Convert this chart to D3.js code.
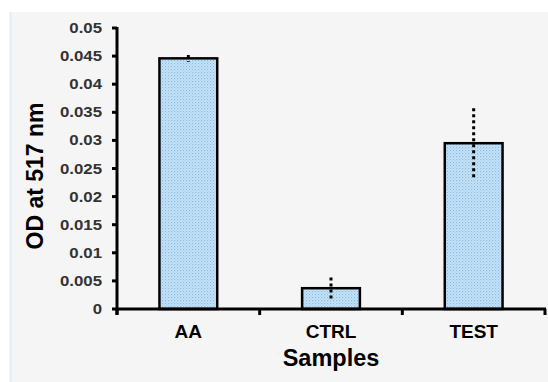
<!DOCTYPE html>
<html><head><meta charset="utf-8">
<script src="https://cdn.jsdelivr.net/npm/d3@7"></script>
<style>body{margin:0;background:#fff}svg{display:block}</style>
</head><body>
<svg id="chart" width="548" height="382"></svg>
<script>
const categories = ["AA", "CTRL", "TEST"];
const means = [0.0446, 0.0037, 0.0295];
const errors = [0.0006, 0.0019, 0.0062];
const yTicks = [0, 0.005, 0.01, 0.015, 0.02, 0.025, 0.03, 0.035, 0.04, 0.045, 0.05];
const yTickLabels = ["0", "0.005", "0.01", "0.015", "0.02", "0.025", "0.03", "0.035", "0.04", "0.045", "0.05"];
const yTitle = "OD at 517 nm";
const xTitle = "Samples";

const svg = d3.select("#chart");
const font = "'Liberation Sans', Arial, sans-serif";

// panel background
svg.append("rect").attr("x", 10).attr("y", 12).attr("width", 538).attr("height", 370).attr("fill", "#f5f5f5");
svg.append("line").attr("x1", 10.5).attr("x2", 10.5).attr("y1", 12).attr("y2", 382).attr("stroke", "#e2eef7").attr("stroke-width", 2);

// pattern
const defs = svg.append("defs");
const pat = defs.append("pattern").attr("id", "dots").attr("patternUnits", "userSpaceOnUse").attr("width", 3).attr("height", 3);
pat.append("rect").attr("width", 3).attr("height", 3).attr("fill", "#c9e4f7");
pat.append("rect").attr("x", 0).attr("y", 0).attr("width", 1.2).attr("height", 1.2).attr("fill", "#84bce5");
pat.append("rect").attr("x", 1.5).attr("y", 1.5).attr("width", 1.2).attr("height", 1.2).attr("fill", "#a0cced");

const x0 = 117, x1 = 545, yTop = 28, yBot = 309;
const x = d3.scaleBand().domain(categories).range([x0, x1]).padding(0);
const y = d3.scaleLinear().domain([0, 0.05]).range([yBot, yTop]);
const barW = x.bandwidth() * 0.405;

// bars
svg.append("g").selectAll("rect").data(categories).join("rect")
  .attr("x", (d) => x(d) + x.bandwidth() / 2 - barW / 2)
  .attr("y", (d, i) => y(means[i]))
  .attr("width", barW)
  .attr("height", (d, i) => y(0) - y(means[i]))
  .attr("fill", "url(#dots)")
  .attr("stroke", "#000").attr("stroke-width", 2.5);

// error bars
svg.append("g").selectAll("line").data(categories).join("line")
  .attr("x1", (d) => x(d) + x.bandwidth() / 2)
  .attr("x2", (d) => x(d) + x.bandwidth() / 2)
  .attr("y1", (d, i) => y(means[i] + errors[i]))
  .attr("y2", (d, i) => y(means[i] - errors[i]))
  .attr("stroke", "#000").attr("stroke-width", 3).attr("stroke-dasharray", "3,3");

// y axis
const yAxis = svg.append("g");
yAxis.append("line").attr("x1", x0).attr("x2", x0).attr("y1", yTop - 1).attr("y2", yBot + 6).attr("stroke", "#000").attr("stroke-width", 3);
yAxis.selectAll("line.t").data(yTicks).join("line").attr("class", "t")
  .attr("x1", x0 - 5).attr("x2", x0).attr("y1", (d) => y(d)).attr("y2", (d) => y(d))
  .attr("stroke", "#000").attr("stroke-width", 3);
yAxis.selectAll("text").data(yTicks).join("text")
  .attr("transform", (d) => `translate(102,${y(d) + 5}) scale(1.2,1)`)
  .attr("text-anchor", "end")
  .attr("font-family", font).attr("font-weight", "bold").attr("font-size", 14).attr("fill", "#333")
  .text((d, i) => yTickLabels[i]);

// x axis
const xAxis = svg.append("g");
xAxis.append("line").attr("x1", x0).attr("x2", x1 + 1).attr("y1", yBot).attr("y2", yBot).attr("stroke", "#000").attr("stroke-width", 3);
const bounds = categories.map((d) => x(d)).concat([x1]);
xAxis.selectAll("line.t").data(bounds).join("line").attr("class", "t")
  .attr("x1", (d) => d).attr("x2", (d) => d).attr("y1", yBot).attr("y2", yBot + 6)
  .attr("stroke", "#000").attr("stroke-width", 3);
xAxis.selectAll("text").data(categories).join("text")
  .attr("x", (d) => x(d) + x.bandwidth() / 2).attr("y", 338)
  .attr("text-anchor", "middle")
  .attr("font-family", font).attr("font-weight", "bold").attr("font-size", 19).attr("fill", "#000")
  .text((d) => d);

// titles
svg.append("text").attr("x", (x0 + x1) / 2).attr("y", 366).attr("text-anchor", "middle")
  .attr("font-family", font).attr("font-weight", "bold").attr("font-size", 23.5).attr("fill", "#000")
  .text(xTitle);
svg.append("text").attr("transform", "translate(43,176) rotate(-90)").attr("text-anchor", "middle")
  .attr("font-family", font).attr("font-weight", "bold").attr("font-size", 23).attr("fill", "#000")
  .text(yTitle);
</script>
</body></html>
